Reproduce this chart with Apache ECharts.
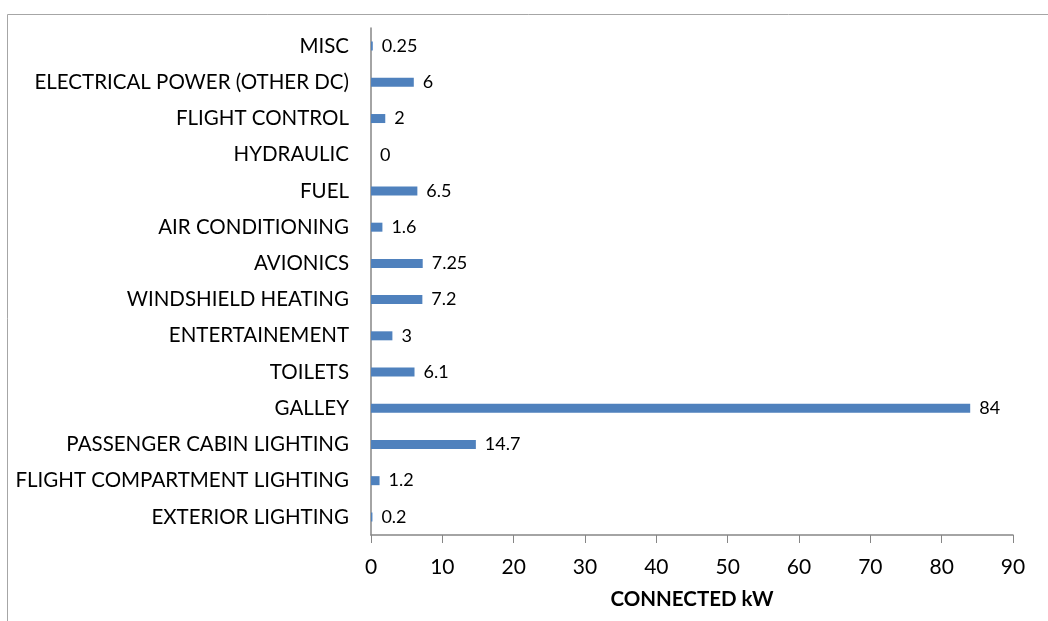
<!DOCTYPE html>
<html><head><meta charset="utf-8">
<script src="https://cdn.jsdelivr.net/npm/echarts@6/dist/echarts.min.js"></script>
<style>html,body{margin:0;padding:0;background:#fff}#c{width:1048px;height:621px}</style>
</head><body><div id="c"></div>
<script>
const categories = ["EXTERIOR LIGHTING","FLIGHT COMPARTMENT LIGHTING","PASSENGER CABIN LIGHTING","GALLEY","TOILETS","ENTERTAINEMENT","WINDSHIELD HEATING","AVIONICS","AIR CONDITIONING","FUEL","HYDRAULIC","FLIGHT CONTROL","ELECTRICAL POWER (OTHER DC)","MISC"];
const values = [0.2,1.2,14.7,84,6.1,3,7.2,7.25,1.6,6.5,0,2,6,0.25];
const axisTitle = "CONNECTED kW";
const font = "Lato, 'Open Sans', sans-serif";
const chart = echarts.init(document.getElementById('c'), null, {renderer:'canvas'});
chart.setOption({
  animation:false,
  graphic:[{type:'rect',shape:{x:7.5,y:14.5,width:1100,height:700},style:{fill:'none',stroke:'#a6a6a6',lineWidth:1}}],
  grid:{left:371,right:35,top:28,bottom:86,containLabel:false},
  xAxis:{type:'value',min:0,max:90,interval:10,
    name:axisTitle,nameLocation:'middle',nameGap:54,
    nameTextStyle:{fontFamily:font,fontWeight:'bold',fontSize:20.5,color:'#000'},
    axisLine:{show:true,lineStyle:{color:'#868686',width:1.5}},
    axisTick:{show:true,length:8,lineStyle:{color:'#868686'}},
    axisLabel:{fontFamily:font,fontSize:21,color:'#000',margin:22},
    splitLine:{show:false}},
  yAxis:{type:'category',data:categories,
    axisLine:{show:true,lineStyle:{color:'#868686',width:1.5}},
    axisTick:{show:false},
    axisLabel:{fontFamily:font,fontSize:20.5,color:'#000',margin:22},
    splitLine:{show:false}},
  series:[{type:'bar',data:values,barWidth:9,
    itemStyle:{color:'#4F81BD'},
    label:{show:true,position:'right',distance:9,fontFamily:font,fontSize:18,color:'#000'}}]
});
</script></body></html>
